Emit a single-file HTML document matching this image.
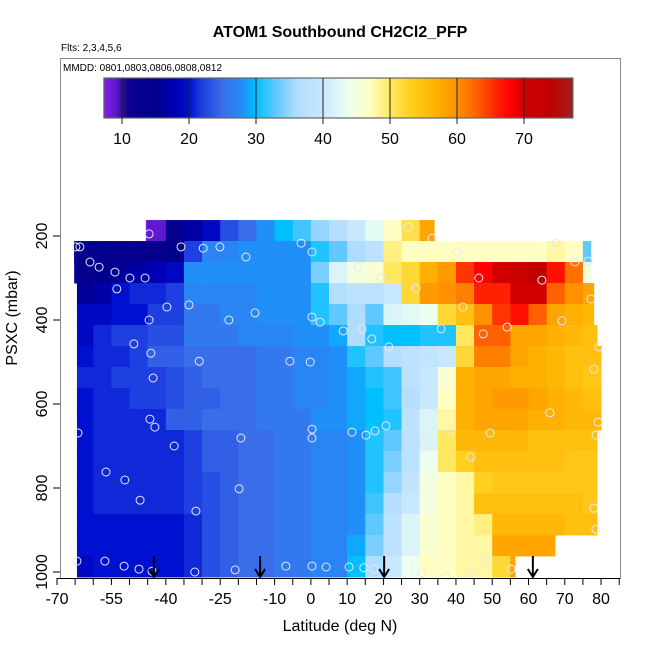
<!DOCTYPE html>
<html><head><meta charset="utf-8">
<style>
html,body{margin:0;padding:0;background:#fff;}
svg{display:block;font-family:"Liberation Sans",Arial,sans-serif;}
</style></head>
<body>
<svg id="chart" width="650" height="650" viewBox="0 0 650 650">
  <text x="340" y="37" text-anchor="middle" font-size="16" font-weight="bold">ATOM1 Southbound CH2Cl2_PFP</text>
  <text x="61" y="51" font-size="10">Flts: 2,3,4,5,6</text>
  <rect x="60.5" y="58.5" width="560" height="520" fill="none" stroke="#888" stroke-width="1"/>
  <text x="63" y="71" font-size="10">MMDD: 0801,0803,0806,0808,0812</text>
  <g id="heat"></g>
  <g id="pts"></g>
  <g id="arrows"></g>
  <g id="cbar"></g>
  <g id="xaxis"></g>
  <g id="yaxis"></g>
  <text x="340" y="631" text-anchor="middle" font-size="16">Latitude (deg N)</text>
  <text transform="translate(17,318) rotate(-90)" text-anchor="middle" font-size="16">PSXC (mbar)</text>
</svg>
<script>
const colLats = [-67.5,-62.5,-57.5,-52.5,-47.5,-42.5,-37.5,-32.5,-27.5,-22.5,-17.5,-12.5,-7.5,-2.5,2.5,7.5,12.5,17.5,22.5,27.5,32.5,37.5,42.5,47.5,52.5,57.5,62.5,67.5,72.5,77.5];
const rowPressures = [187,237,287,337,387,437,487,537,587,637,687,737,787,837,887,937,987];
const rowLatStart = [-45.5,-65.3,-65.3,-64.5,-64.5,-64.5,-64.5,-64.5,-64.5,-64.5,-64.5,-64.5,-64.5,-64.5,-64.5,-64.5,-64.5];
const rowLatEnd = [34,77.2,77.2,78,78,78.9,80.3,80.3,80.3,80.3,78.9,78.9,78.9,78.9,78.9,67.3,56.3];
const n=null;
const r0 = [n,n,n,n,8,9,14,17,19,23,25,28,30,32,35,37,40,43,47,51,58,n,n,n,n,n,n,n,n,n];
const r1 = [12,14,14,14,14,14,15,22,27,27,28,28,28,28,31,33,36,38,49,47,47,47,47,47,47,47,47,48,47,33];
const r2 = [10,14,15,16,17,18,19,28,28,28,28,28,28,28,34,42,45,46,50,52,57,59,65,68,70,72,74,67,62,45];
const r3 = [15,16,17,20,21,21,22,27,27,27,27,28,28,28,31,37,38,38,40,52,59,60,61,66,66,70,70,63,60,58];
const r4 = [18,19,19,20,20,22,22,26,26,27,27,28,28,28,31,33,36,33,42,43,44,52,55,60,65,67,63,58,57,56];
const r5 = [19,19,21,22,22,23,23,26,26,26,27,27,27,28,28,29,36,31,30,30,31,31,50,63,63,58,58,57,56,55];
const r6 = [20,20,21,21,22,24,24,25,25,25,25,26,26,27,27,28,31,33,37,38,39,40,52,61,61,58,57,56,55,55];
const r7 = [20,21,21,22,22,22,23,24,25,25,25,26,26,27,27,28,29,31,32,38,40,46,57,58,58,57,57,56,55,54];
const r8 = [20,20,21,21,22,22,23,24,24,25,25,26,26,27,27,28,29,30,32,37,40,47,57,58,59,59,58,57,56,55];
const r9 = [20,20,21,21,21,21,24,24,25,25,25,26,26,26,28,28,29,30,31,38,42,48,57,58,58,58,57,57,56,56];
const r10 = [20,20,21,21,21,21,21,22,24,24,25,25,26,26,27,27,28,31,33,38,42,50,56,56,56,56,55,55,55,55];
const r11 = [20,20,21,21,21,21,21,22,24,24,25,25,26,26,27,27,28,31,34,38,44,50,53,55,55,55,55,55,54,54];
const r12 = [20,20,21,21,21,21,21,22,23,24,25,25,26,26,27,27,28,31,35,39,45,47,48,53,54,54,54,54,54,54];
const r13 = [20,20,21,21,21,21,21,22,23,24,25,25,26,26,27,27,28,32,37,40,45,47,48,55,55,55,55,55,55,54];
const r14 = [20,20,20,20,20,20,20,21,23,24,25,25,26,26,27,27,28,33,38,42,46,47,48,49,56,56,56,56,55,55];
const r15 = [20,20,20,20,20,20,20,21,23,24,25,25,26,26,27,27,29,34,38,42,46,47,48,48,58,58,58,58,n,n];
const r16 = [19,19,20,20,20,20,20,21,23,24,25,25,26,26,27,27,30,36,40,44,47,47,48,48,52,58,n,n,n,n];
const gridRows = [r0,r1,r2,r3,r4,r5,r6,r7,r8,r9,r10,r11,r12,r13,r14,r15,r16];

const pointLats = [26.8,-44.6,33.4,-64.8,-63.7,-35.8,-29.7,-25.1,-2.7,0.3,-17.9,67.6,40.3,-60.9,-58.4,-54,-49.9,-45.7,13,19.3,72.8,76.4,46.3,63.7,-53.5,29,77.2,-39.7,-33.6,41.9,-44.6,-22.6,-15.4,0.3,2.5,69.2,8.9,14.1,16.8,21.5,35.9,47.5,54.1,-48.8,-44.1,-30.8,-5.8,-0.2,79.4,78,-43.5,65.9,79.2,-44.4,-43,-64.2,0.3,0.3,-19.3,11.3,15.2,17.7,20.7,38.4,49.4,78.6,-37.7,31.2,44.1,-56.5,-51.3,-19.8,-47.1,-31.7,78,78.6,-64.5,-56.8,-51.5,-47.4,-43.8,-32,-20.9,-6.9,0.3,4.2,10.5,14.6,17.4,30.6,37.3,43.6,48.3,55.2];
const pointPress = [179,195,205,226,226,226,229,226,217,238,250,217,238,262,274,286,300,300,274,300,262,260,300,305,326,324,350,369,364,369,400,400,383,393,405,402,426,421,445,464,421,433,417,457,479,498,498,500,464,517,538,621,643,636,655,669,660,681,681,667,674,664,652,664,669,674,700,693,726,762,781,802,829,855,848,898,974,974,986,993,998,1000,995,986,986,988,988,990,993,1002,1010,1002,971,993];
const arrowLats = [-43.3,-14,20.2,61.2];

const xTicks = [-70,-65,-60,-55,-50,-45,-40,-35,-30,-25,-20,-15,-10,-5,0,5,10,15,20,25,30,35,40,45,50,55,60,65,70,75,80,85];
const xTickLabels = [-70,-55,-40,-25,-10,0,10,20,30,40,50,60,70,80];
const yTickLabels = [200,400,600,800,1000];
const cbarTicks = [10,20,30,40,50,60,70];
const cbarMin = 7.3, cbarMax = 77.3;

const NS='http://www.w3.org/2000/svg';
const X = lat => 57 + (lat + 70) * 3.627;
const Y = p => 152 + p * 0.42;
const CB = v => 122 + (v - 10) * 6.7;

const stops = [[7.3,[128,32,232]],[9,[96,24,208]],[10,[48,16,160]],[11,[16,0,144]],[15,[0,0,140]],[18,[0,0,180]],[20,[0,16,208]],[22,[30,64,224]],[25,[58,110,232]],[28,[32,144,248]],[30,[0,191,255]],[33,[96,200,255]],[36,[176,220,255]],[40,[200,232,255]],[44,[236,255,240]],[47,[255,255,196]],[50,[255,232,96]],[53,[255,208,32]],[57,[255,176,0]],[60,[255,144,0]],[63,[255,96,0]],[66,[255,32,0]],[68,[255,0,0]],[70,[208,0,0]],[74,[192,0,0]],[77.3,[160,32,32]]];
function color(v){
  if(v<=stops[0][0]) return 'rgb('+stops[0][1]+')';
  for(let i=1;i<stops.length;i++){
    if(v<=stops[i][0]){
      const a=stops[i-1],b=stops[i],t=(v-a[0])/(b[0]-a[0]);
      const c=a[1].map((x,k)=>Math.round(x+(b[1][k]-x)*t));
      return 'rgb('+c+')';
    }
  }
  return 'rgb('+stops[stops.length-1][1]+')';
}
function mk(tag,attrs,parent){const e=document.createElementNS(NS,tag);for(const k in attrs)e.setAttribute(k,attrs[k]);parent.appendChild(e);return e;}

// heatmap
const heat=document.getElementById('heat');
gridRows.forEach((row,i)=>{
  const yT=Y(rowPressures[i]-25), yB=Y(rowPressures[i]+25);
  row.forEach((v,j)=>{
    if(v===null) return;
    const l=Math.max(colLats[j]-2.5,rowLatStart[i]), r=Math.min(colLats[j]+2.5,rowLatEnd[i]);
    if(r<=l) return;
    const c=mk('rect',{x:X(l).toFixed(2),y:yT.toFixed(2),width:(X(r)-X(l)+0.4).toFixed(2),height:(yB-yT+0.4).toFixed(2),fill:color(v)},heat);
    
    
  });
});
// points
const pts=document.getElementById('pts');
pointLats.forEach((lat,i)=>{
  const c=mk('circle',{cx:X(lat).toFixed(1),cy:Y(pointPress[i]).toFixed(1),r:4,fill:'none',stroke:'#e8e8f0','stroke-width':1},pts);
  
  
});
// arrows
const arr=document.getElementById('arrows');
arrowLats.forEach(lat=>{
  const x=X(lat);
  const g=mk('g',{},arr);
  
  
  mk('line',{x1:x,y1:556,x2:x,y2:577,stroke:'#000','stroke-width':2},g);
  mk('polyline',{points:(x-5)+',569 '+x+',577 '+(x+5)+',569',fill:'none',stroke:'#000','stroke-width':2},g);
});
// colorbar
const cb=document.getElementById('cbar');
for(let v=cbarMin;v<cbarMax;v+=0.25){
  const r=mk('rect',{x:CB(v).toFixed(2),y:78,width:(0.25*6.7+0.4).toFixed(2),height:40,fill:color(v+0.125)},cb);
  
  
}
mk('rect',{x:CB(cbarMin),y:78,width:CB(cbarMax)-CB(cbarMin),height:40,fill:'none',stroke:'#666','stroke-width':1.2},cb);
cbarTicks.forEach(t=>{
  const x=CB(t);
  mk('line',{x1:x,y1:78,x2:x,y2:124,stroke:'#222','stroke-width':1},cb);
  const tx=mk('text',{x:x,y:144,'text-anchor':'middle','font-size':16},cb);
  tx.textContent=t;
  
  
});
// x axis
const xa=document.getElementById('xaxis');
mk('line',{x1:57,y1:578.5,x2:620,y2:578.5,stroke:'#000','stroke-width':1},xa);
xTicks.forEach(t=>{mk('line',{x1:X(t),y1:578,x2:X(t),y2:585,stroke:'#000','stroke-width':1},xa);});
xTickLabels.forEach(t=>{
  const tx=mk('text',{x:X(t),y:604,'text-anchor':'middle','font-size':16},xa);
  tx.textContent=t;
  
  
});
// y axis
const ya=document.getElementById('yaxis');
yTickLabels.forEach(t=>{
  const y=Y(t);
  mk('line',{x1:53,y1:y,x2:60,y2:y,stroke:'#000','stroke-width':1},ya);
  const tx=mk('text',{transform:'translate(47,'+y+') rotate(-90)','text-anchor':'middle','font-size':16},ya);
  tx.textContent=t;
  
  
});
</script>
</body></html>
